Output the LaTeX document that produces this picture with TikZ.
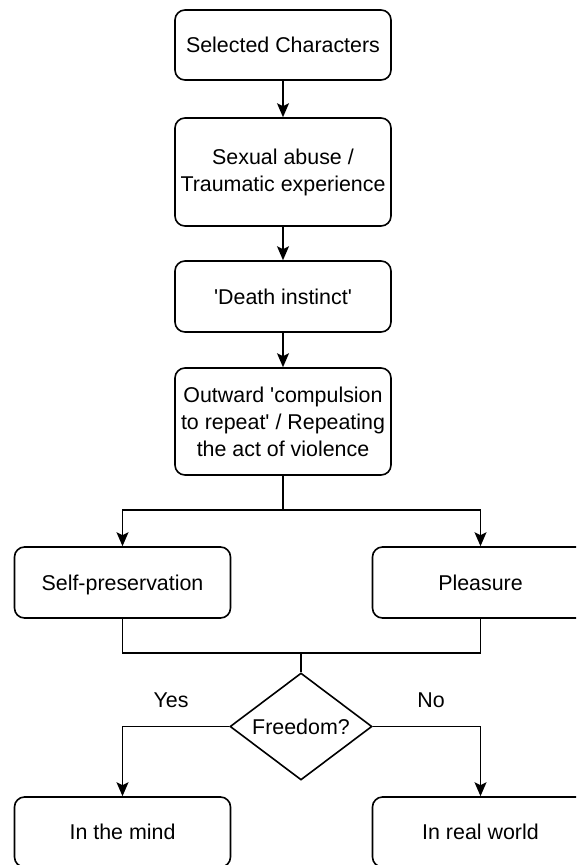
\documentclass[tikz,border=0pt]{standalone}
\usepackage{fontspec}
\newfontfamily\flowfont{Liberation Sans}
\usetikzlibrary{shapes.geometric,arrows.meta}

\begin{document}
\begin{tikzpicture}
[x=1pt,y=-1pt,line width=1.6pt,>={Stealth[length=14pt,width=12pt,inset=3pt]},
every node/.style={font=\flowfont\fontsize{21.4}{27}\selectfont,inner sep=0pt},
box/.style={draw,rounded corners=10pt,minimum width=216pt,minimum height=71pt,align=center},
oneline/.style={text height=17.5pt,text depth=2pt},
dec/.style={draw,diamond,shape aspect=1.33,minimum width=142pt,minimum height=107pt}]
\clip (0,0) rectangle (576,865);
\node[box,oneline,minimum height=70pt] (chars) at (283,45) {Selected Characters};
\node[box,minimum height=108pt] (abuse) at (283,172) {Sexual abuse /\\Traumatic experience};
\node[box,oneline] (death) at (283,296.5) {'Death instinct'};
\node[box,minimum height=107pt] (repeat) at (283,421.5) {Outward 'compulsion\\to repeat' / Repeating\\the act of violence};
\node[box,oneline] (selfp) at (122.5,582.5) {Self-preservation};
\node[box,oneline] (pleas) at (480.5,582.5) {Pleasure};
\node[dec,oneline] (free) at (301,726.5) {Freedom?};
\node[oneline] (yes) at (171,700) {Yes};
\node[oneline] (no) at (431,700) {No};
\node[box,oneline,minimum height=70pt] (mind) at (122.5,832) {In the mind};
\node[box,oneline,minimum height=70pt] (real) at (480.5,832) {In real world};
\coordinate (split) at (283,510);
\coordinate (merge) at (301,653);
\draw[->] (chars) -- (abuse);
\draw[->] (abuse) -- (death);
\draw[->] (death) -- (repeat);
\draw (repeat) -- (split);
\draw[->] (split) -| (selfp);
\draw[->] (split) -| (pleas);
\draw (selfp) |- (merge) -| (pleas);
\draw (merge) -- (free);
\draw[->] (free) -| (mind);
\draw[->] (free) -| (real);
\end{tikzpicture}
\end{document}
